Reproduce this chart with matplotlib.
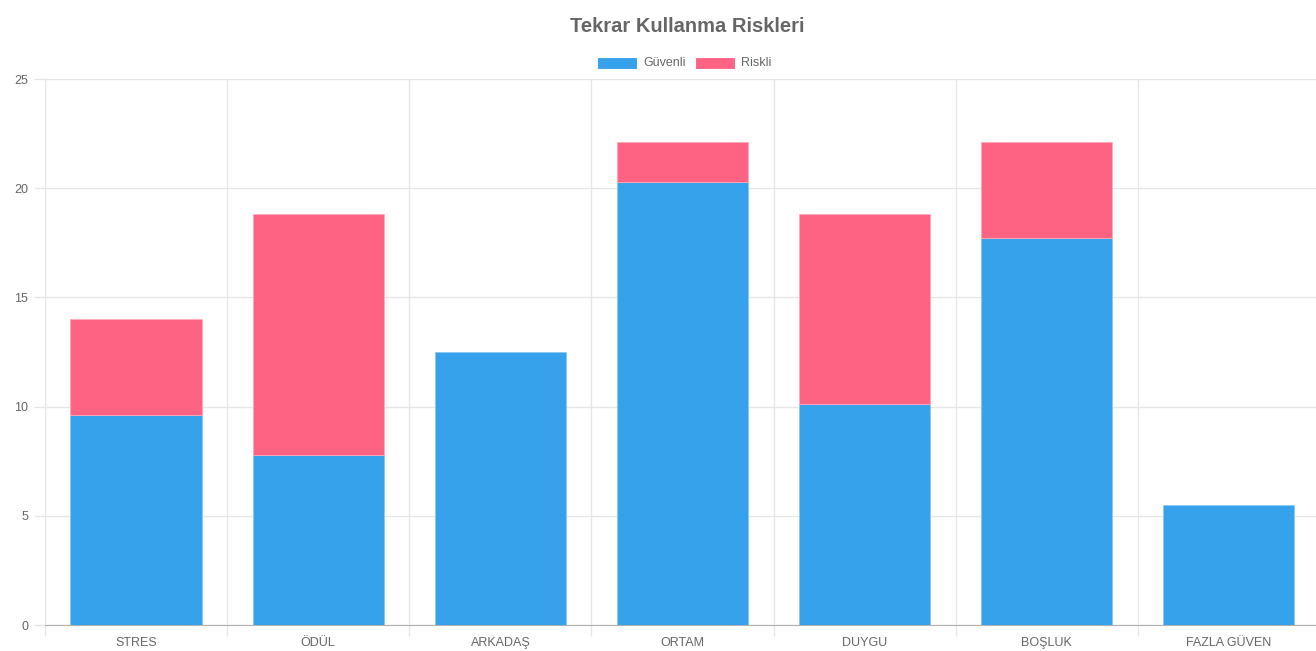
import matplotlib
matplotlib.use("Agg")
import matplotlib.pyplot as plt
from matplotlib.patches import Rectangle
import numpy as np

categories = ["STRES", "ÖDÜL", "ARKADAŞ", "ORTAM", "DUYGU", "BOŞLUK", "FAZLA GÜVEN"]
guvenli = [9.6, 7.8, 12.5, 20.3, 10.1, 17.7, 5.5]
riskli = [4.4, 11.0, 0.0, 1.8, 8.7, 4.4, 0.0]
series_names = ["Güvenli", "Riskli"]
colors = ["#36A2EB", "#FF6384"]
title = "Tekrar Kullanma Riskleri"

plt.rcParams['font.family'] = ['Liberation Sans', 'DejaVu Sans']

W, H = 1316, 651
fig = plt.figure(figsize=(W / 100, H / 100), dpi=100)
ax = fig.add_axes([45 / W, 1 - 625 / H, 1275 / W, (625 - 79) / H])

x = np.arange(len(categories))
lw_g = [0.6 if v > 0 else 0 for v in guvenli]
lw_r = [0.6 if v > 0 else 0 for v in riskli]
ax.bar(x, guvenli, width=0.72, color=colors[0], edgecolor="#8cc8f0", linewidth=lw_g, zorder=3)
ax.bar(x, riskli, width=0.72, bottom=guvenli, color=colors[1], edgecolor="#ffa8b8", linewidth=lw_r, zorder=3)

ax.set_xlim(-0.5, len(categories) - 0.5)
ax.set_ylim(0, 25)
ax.set_yticks([0, 5, 10, 15, 20, 25])
ax.set_xticks(x)
ax.set_xticklabels(categories)
for lbl in ax.get_xticklabels():
    lbl.set_va("baseline")
ax.set_xticks(np.arange(len(categories) + 1) - 0.5, minor=True)
ax.tick_params(axis='x', which='major', length=0, pad=15, labelsize=9, labelcolor="#666666")
ax.tick_params(axis='x', which='minor', length=8, color="#e6e6e6", width=1)
ax.tick_params(axis='y', length=8, color="#e6e6e6", width=1, pad=4, labelsize=9, labelcolor="#666666")
ax.grid(axis='y', color="#e6e6e6", linewidth=1, zorder=0)
ax.grid(axis='x', which='minor', color="#e6e6e6", linewidth=1, zorder=0)
ax.grid(axis='x', which='major', visible=False)
for s in ["top", "right"]:
    ax.spines[s].set_visible(False)
ax.spines["left"].set_color("#e6e6e6")
ax.spines["bottom"].set_color("#b0b0b0")
ax.set_axisbelow(True)

fig.text(687 / W, 1 - 27 / H, title, ha="center", va="center", fontsize=14.5,
         fontweight="bold", color="#666666")

# legend
lx = 597
for name, c in zip(series_names, colors):
    fig.patches.append(Rectangle((lx / W, 1 - 69 / H), 40 / W, 12 / H, transform=fig.transFigure,
                                 facecolor=c, edgecolor="white", linewidth=0.8))
    fig.text((lx + 46) / W, 1 - 63 / H, name, ha="left", va="center", fontsize=9, color="#666666")
    lx += 98

fig.savefig("out.png", dpi=100)
